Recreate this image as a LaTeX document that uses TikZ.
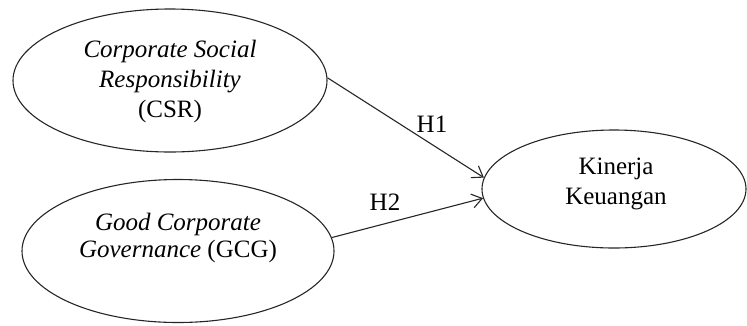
\documentclass[tikz,border=0pt]{standalone}
\usepackage{fontspec}
\setmainfont{Liberation Serif}
\usetikzlibrary{shapes.geometric,arrows.meta}
\begin{document}
\begin{tikzpicture}[x=1pt,y=-1pt,
  ell/.style={draw=black!85,line width=1.1pt,ellipse,inner sep=0pt},
  txt/.style={align=center,font=\fontsize{25}{30}\selectfont,inner sep=0pt},
  lbl/.style={font=\fontsize{25}{30}\selectfont,inner sep=0pt,anchor=base},
  link/.style={draw=black!85,line width=1.1pt,-{Straight Barb[length=10pt,width=14pt,line width=1.1pt]}}]
\useasboundingbox (0,0) rectangle (747,325);
\node[ell,minimum width=314pt,minimum height=143pt] (csr) at (170,80.5) {};
\node[ell,minimum width=312pt,minimum height=143pt] (gcg) at (178,251) {};
\node[ell,minimum width=264pt,minimum height=118pt] (kin) at (614,189) {};
\node[txt] (csrt) at (170,81) {\textit{Corporate Social}\\\textit{Responsibility}\\(CSR)};
\node[txt,font=\fontsize{25}{27}\selectfont] (gcgt) at (178,237.5) {\textit{Good Corporate}\\\textit{Governance} (GCG)};
\node[txt] (kint) at (616,184) {Kinerja\\Keuangan};
\draw[link] (csr.1) -- (kin.175);
\draw[link] (gcg.5) -- (kin.184);
\node[lbl] (h1) at (432,132) {H1};
\node[lbl] (h2) at (385,210) {H2};
\end{tikzpicture}
\end{document}
